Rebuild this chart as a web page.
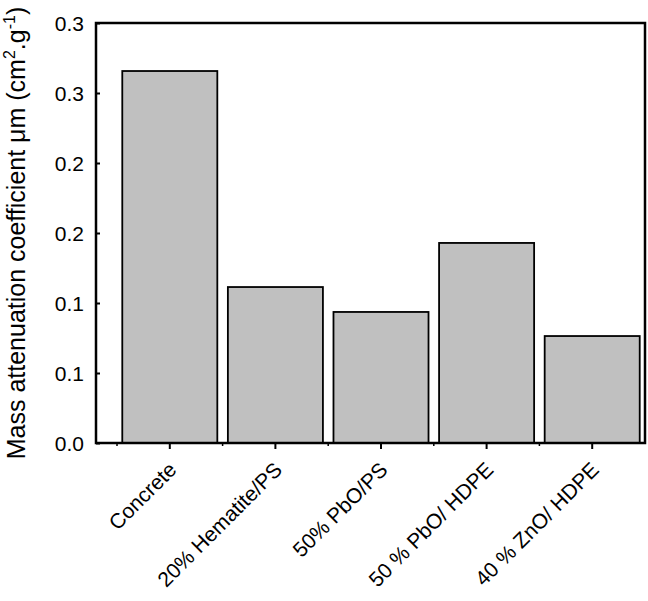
<!DOCTYPE html>
<html>
<head>
<meta charset="utf-8">
<script src="https://cdn.jsdelivr.net/npm/d3@7"></script>
<style>
  body { margin: 0; background: #fff; }
  text { font-family: "Liberation Sans", Arial, sans-serif; fill: #000; }
</style>
</head>
<body>
<div id="chart"></div>
<script>
var categories = ["Concrete", "20% Hematite/PS", "50% PbO/PS", "50 % PbO/ HDPE", "40 % ZnO/ HDPE"];
var values = [0.2657, 0.1114, 0.0936, 0.1429, 0.0764];
var yTicks = [0, 0.05, 0.1, 0.15, 0.2, 0.25, 0.3];
var yTickLabels = ["0.0", "0.1", "0.1", "0.2", "0.2", "0.3", "0.3"];

var width = 648,
  height = 601;
var frame = { left: 96, right: 645, top: 23, bottom: 443 };

var svg = d3
  .select("#chart")
  .append("svg")
  .attr("width", width)
  .attr("height", height);

//band scale starts a bit right of the frame
var x = d3
  .scaleBand()
  .domain(categories)
  .range([117, frame.right])
  .paddingInner(0.1)
  .paddingOuter(0.05);

var y = d3
  .scaleLinear()
  .domain([0, 0.3])
  .range([frame.bottom, frame.top]);

//bars
svg
  .selectAll(".bar")
  .data(values)
  .enter()
  .append("rect")
  .attr("class", "bar")
  .attr("x", function(d, i) {
    return x(categories[i]);
  })
  .attr("y", function(d) {
    return y(d);
  })
  .attr("width", x.bandwidth())
  .attr("height", function(d) {
    return y(0) - y(d);
  })
  .attr("fill", "#c0c0c0")
  .attr("stroke", "#000")
  .attr("stroke-width", 1.8);

//y axis, ticks pointing inward; labels are the rounded ones of the original
var yAxis = d3
  .axisLeft(y)
  .tickValues(yTicks)
  .tickSize(-4)
  .tickPadding(12)
  .tickFormat(function(d, i) {
    return yTickLabels[i];
  });

var gy = svg
  .append("g")
  .attr("transform", "translate(" + frame.left + ",0)")
  .call(yAxis);
gy.select(".domain").remove();
gy.selectAll(".tick line").attr("stroke-width", 2);
gy.selectAll(".tick text")
  .attr("font-size", "21px")
  .attr("font-family", "Liberation Sans, Arial, sans-serif")
  .attr("dy", "0.35em");

//x axis: major ticks at bar centres, minor ticks at band edges
var gx = svg
  .append("g")
  .attr("transform", "translate(0," + frame.bottom + ")");

gx.selectAll(".major")
  .data(categories)
  .enter()
  .append("line")
  .attr("x1", function(d) {
    return x(d) + x.bandwidth() / 2;
  })
  .attr("x2", function(d) {
    return x(d) + x.bandwidth() / 2;
  })
  .attr("y1", 0)
  .attr("y2", 6)
  .attr("stroke", "#000")
  .attr("stroke-width", 2);

var step = x.step();
gx.selectAll(".minor")
  .data(categories)
  .enter()
  .append("line")
  .attr("x1", function(d) {
    return x(d) - step * 0.05;
  })
  .attr("x2", function(d) {
    return x(d) - step * 0.05;
  })
  .attr("y1", 0)
  .attr("y2", 3)
  .attr("stroke", "#000")
  .attr("stroke-width", 1.5);

gx.selectAll(".xlabel")
  .data(categories)
  .enter()
  .append("text")
  .attr("class", "xlabel")
  .attr("text-anchor", "end")
  .attr("font-size", "21px")
  .attr("transform", function(d) {
    var cx = x(d) + x.bandwidth() / 2 + 8;
    return "translate(" + cx + ",28) rotate(-45)";
  })
  .text(function(d) {
    return d;
  });

//frame box
svg
  .append("rect")
  .attr("x", frame.left)
  .attr("y", frame.top)
  .attr("width", frame.right - frame.left)
  .attr("height", frame.bottom - frame.top)
  .attr("fill", "none")
  .attr("stroke", "#000")
  .attr("stroke-width", 2.5);

//y axis title with superscripts
var title = svg
  .append("text")
  .attr("text-anchor", "middle")
  .attr("font-size", "25px")
  .attr("transform", "translate(25," + (frame.top + frame.bottom) / 2 + ") rotate(-90)");
title.append("tspan").text("Mass attenuation coefficient μm (cm");
title.append("tspan").attr("font-size", "16px").attr("dy", "-10").text("2");
title.append("tspan").attr("dy", "10").text(".g");
title.append("tspan").attr("font-size", "16px").attr("dy", "-10").text("-1");
title.append("tspan").attr("dy", "10").text(")");
</script>
</body>
</html>
